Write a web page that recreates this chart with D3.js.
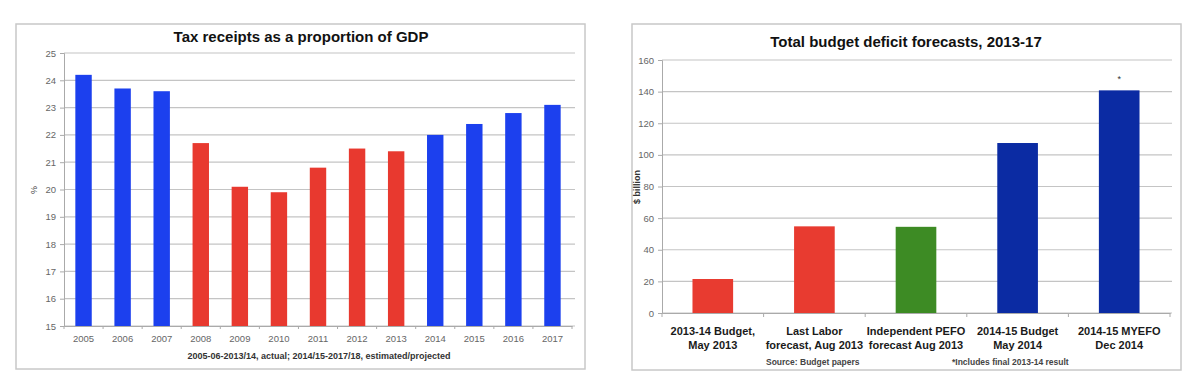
<!DOCTYPE html>
<html><head><meta charset="utf-8">
<script src="https://cdn.jsdelivr.net/npm/d3@7"></script>
<style>
html,body{margin:0;padding:0;background:#fff;}
svg{display:block;font-family:"Liberation Sans",Arial,sans-serif;}
</style></head>
<body>
<svg id="c" width="1200" height="385"></svg>
<script>
// ---- Left chart data ----
const taxYears = ["2005","2006","2007","2008","2009","2010","2011","2012","2013","2014","2015","2016","2017"];
const taxValues = [24.2,23.7,23.6,21.7,20.1,19.9,20.8,21.5,21.4,22.0,22.4,22.8,23.1];
const taxGroup = ["coalition","coalition","coalition","labor","labor","labor","labor","labor","labor","coalition","coalition","coalition","coalition"];
const taxTicks = [15,16,17,18,19,20,21,22,23,24,25];

// ---- Right chart data ----
const defLabels = [["2013-14 Budget,","May 2013"],["Last Labor","forecast, Aug 2013"],["Independent PEFO","forecast Aug 2013"],["2014-15 Budget","May 2014"],["2014-15 MYEFO","Dec 2014"]];
const defValues = [21.5,54.8,54.5,107.5,140.8];
const defGroup = ["labor","labor","pefo","coalition2","coalition2"];
const defTicks = [0,20,40,60,80,100,120,140,160];

const svg = d3.select("#c");
const gridCol = "#c4c4c4", tickTextCol = "#666";

// ===== Left chart =====
(function(){
  svg.append("rect").attr("x",16).attr("y",24).attr("width",569).attr("height",345)
    .attr("fill","#fff").attr("stroke","#c8c8c8").attr("stroke-width",1.5);
  svg.append("text").attr("x",301).attr("y",42).attr("text-anchor","middle")
    .attr("font-size",15).attr("font-weight","bold").attr("fill","#111")
    .text("Tax receipts as a proportion of GDP");
  const x = d3.scaleBand().domain(taxYears).range([64,572]).paddingInner(0.58).paddingOuter(0.29);
  const y = d3.scaleLinear().domain([15,25]).range([326,53]);
  const color = {coalition:"#1c40ee", labor:"#e8392f"};
  const g = svg.append("g");
  g.selectAll("line.grid").data(taxTicks).join("line")
    .attr("x1",64).attr("x2",575).attr("y1",d=>y(d)).attr("y2",d=>y(d))
    .attr("stroke",gridCol).attr("stroke-width",1.2);
  const ya = svg.append("g").attr("transform","translate(64,0)")
    .call(d3.axisLeft(y).tickValues(taxTicks).tickSize(4).tickPadding(4).tickFormat(d3.format("d")));
  ya.select(".domain").attr("stroke","#aaa");
  ya.selectAll(".tick line").attr("stroke","#aaa");
  ya.selectAll("text").attr("font-size",9.5).attr("fill",tickTextCol).attr("font-family","Liberation Sans, Arial, sans-serif");
  g.selectAll("rect.bar").data(taxValues).join("rect")
    .attr("x",(d,i)=>x(taxYears[i])).attr("width",x.bandwidth())
    .attr("y",d=>y(d)).attr("height",d=>y(15)-y(d))
    .attr("fill",(d,i)=>color[taxGroup[i]]);
  const xa = svg.append("g").attr("transform","translate(0,326)")
    .call(d3.axisBottom(x).tickSize(0).tickPadding(9));
  xa.select(".domain").attr("stroke","#aaa");
  xa.selectAll("text").attr("font-size",9.5).attr("fill",tickTextCol).attr("font-family","Liberation Sans, Arial, sans-serif");
  const r = x.range();
  svg.append("g").selectAll("line").data(d3.range(taxYears.length+1)).join("line")
    .attr("x1",i=>r[0]+i*(r[1]-r[0])/taxYears.length).attr("x2",i=>r[0]+i*(r[1]-r[0])/taxYears.length)
    .attr("y1",326).attr("y2",329).attr("stroke","#aaa");
  svg.append("text").attr("transform","translate(37,190) rotate(-90)").attr("text-anchor","middle")
    .attr("font-size",9).attr("fill","#444").text("%");
  svg.append("text").attr("x",319).attr("y",359).attr("text-anchor","middle")
    .attr("font-size",9).attr("font-weight","bold").attr("fill","#333")
    .text("2005-06-2013/14, actual; 2014/15-2017/18, estimated/projected");
})();

// ===== Right chart =====
(function(){
  svg.append("rect").attr("x",632).attr("y",24).attr("width",549).attr("height",346)
    .attr("fill","#fff").attr("stroke","#c8c8c8").attr("stroke-width",1.5);
  svg.append("text").attr("x",906).attr("y",47).attr("text-anchor","middle")
    .attr("font-size",15).attr("font-weight","bold").attr("fill","#111")
    .text("Total budget deficit forecasts, 2013-17");
  const cats = defLabels.map((d,i)=>"c"+i);
  const x = d3.scaleBand().domain(cats).range([662,1170]).paddingInner(0.6).paddingOuter(0.3);
  const y = d3.scaleLinear().domain([0,160]).range([313,60]);
  const color = {labor:"#e83b30", pefo:"#3d8b24", coalition2:"#0b2ba3"};
  svg.append("g").selectAll("line").data(defTicks).join("line")
    .attr("x1",662).attr("x2",1172).attr("y1",d=>y(d)).attr("y2",d=>y(d))
    .attr("stroke",gridCol).attr("stroke-width",1.2);
  const ya = svg.append("g").attr("transform","translate(662,0)")
    .call(d3.axisLeft(y).tickValues(defTicks).tickSize(4).tickPadding(4));
  ya.select(".domain").attr("stroke","#aaa");
  ya.selectAll(".tick line").attr("stroke","#aaa");
  ya.selectAll("text").attr("font-size",9.5).attr("fill",tickTextCol).attr("font-family","Liberation Sans, Arial, sans-serif");
  svg.append("g").selectAll("rect").data(defValues).join("rect")
    .attr("x",(d,i)=>x(cats[i])).attr("width",x.bandwidth())
    .attr("y",d=>y(d)).attr("height",d=>y(0)-y(d))
    .attr("fill",(d,i)=>color[defGroup[i]]);
  const xa = svg.append("g").attr("transform","translate(0,313)")
    .call(d3.axisBottom(x).tickSize(0).tickFormat(""));
  xa.select(".domain").attr("stroke","#aaa");
  svg.append("g").selectAll("line").data(d3.range(cats.length+1)).join("line")
    .attr("x1",i=>662+i*x.step()).attr("x2",i=>662+i*x.step())
    .attr("y1",313).attr("y2",317).attr("stroke","#aaa");
  const lab = svg.append("g").selectAll("text").data(defLabels).join("text")
    .attr("text-anchor","middle").attr("font-size",11).attr("font-weight","bold").attr("fill","#1a1a1a")
    .attr("x",(d,i)=>x(cats[i])+x.bandwidth()/2).attr("y",335);
  lab.selectAll("tspan").data(d=>d).join("tspan")
    .attr("x",function(){return this.parentNode.getAttribute("x");})
    .attr("dy",(d,i)=>i===0?0:14).text(d=>d);
  svg.append("text").attr("x",x(cats[4])+x.bandwidth()/2).attr("y",y(defValues[4])-8)
    .attr("text-anchor","middle").attr("font-size",9).attr("fill","#333").text("*");
  svg.append("text").attr("transform","translate(640,187) rotate(-90)").attr("text-anchor","middle")
    .attr("font-size",9).attr("font-weight","bold").attr("fill","#333").text("$ billion");
  svg.append("text").attr("x",766).attr("y",365).attr("font-size",8.5).attr("font-weight","bold").attr("fill","#444")
    .text("Source: Budget papers");
  svg.append("text").attr("x",952).attr("y",365).attr("font-size",8.5).attr("font-weight","bold").attr("fill","#444")
    .text("*Includes final 2013-14 result");
})();
</script>
</body></html>
